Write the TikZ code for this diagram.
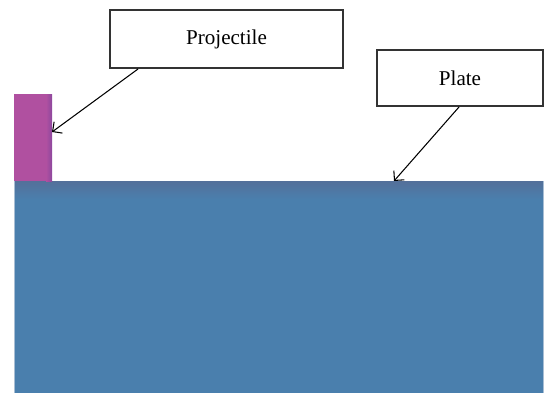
\documentclass[tikz,border=0pt]{standalone}
\usepackage{fontspec}
\setmainfont{Liberation Serif}
\usetikzlibrary{arrows.meta}

\definecolor{projcol}{RGB}{176,80,160}
\definecolor{projedge}{RGB}{140,72,158}
\definecolor{plateblue}{RGB}{74,127,173}
\definecolor{platetop}{RGB}{84,112,154}
\definecolor{plateedge}{RGB}{168,190,212}

\tikzset{
  labelbox/.style={draw=black!80, line width=1.1pt, fill=white, inner sep=0pt, font=\fontsize{12}{14}\selectfont},
  pointer/.style={-{Straight Barb[length=4pt,width=8pt]}, line width=0.6pt}
}

\begin{document}
\begin{tikzpicture}[x=0.02cm,y=-0.02cm]
\useasboundingbox (0,0) rectangle (545,393);

% Draw the plate and the projectile sitting on it
\fill [plateblue] (14,181) rectangle (543,393);
\shade [top color=platetop, bottom color=plateblue] (14,181) rectangle (543,199);
\draw [plateedge, line width=0.5pt] (14,181) -- (14,393);
\draw [plateedge, line width=0.5pt] (543,181) -- (543,393);
\fill [projcol] (14,94) rectangle (52,181);
\shade [left color=projcol, right color=projedge] (46,94) rectangle (52,181);

\node [labelbox, minimum width=4.66cm, minimum height=1.16cm] (ProjLabel) at (226.5,39) {Projectile};
\node [labelbox, minimum width=3.32cm, minimum height=1.12cm] (PlateLabel) at (460,78) {Plate};
\coordinate (ProjTip) at (52,132);
\coordinate (PlateTip) at (394,181);
\draw [pointer] ([xshift=0.58cm]ProjLabel.south west) -- (ProjTip);
\draw [pointer] ([xshift=1.66cm]PlateLabel.south west) -- (PlateTip);

\end{tikzpicture}
\end{document}
